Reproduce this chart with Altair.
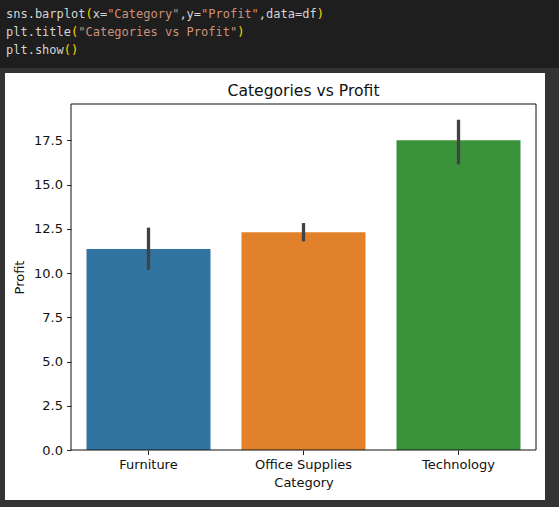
import altair as alt
import pandas as pd

# ---- data ----
categories = ["Furniture", "Office Supplies", "Technology"]
profit_mean = [11.36, 12.31, 17.51]
ci_low = [10.18, 11.80, 16.15]
ci_high = [12.57, 12.83, 18.67]
bar_colors = ["#3274a1", "#e1812c", "#3a923a"]
chart_title = "Categories vs Profit"

# code cell text, split into coloured tokens
code_lines = [
    [("sns.barplot", "w"), ("(", "y"), ("x=", "w"), ('"Category"', "o"), (",y=", "w"),
     ('"Profit"', "o"), (",data=df", "w"), (")", "y")],
    [("plt.title", "w"), ("(", "y"), ('"Categories vs Profit"', "o"), (")", "y")],
    [("plt.show", "w"), ("()", "y")],
]
token_colors = {"w": "#d4d4d4", "y": "#ffd700", "o": "#ce9178"}

df = pd.DataFrame({"Category": categories, "Profit": profit_mean,
                   "lo": ci_low, "hi": ci_high})

W, H = 465, 346
PAD = {"left": 71, "top": 104, "right": 23, "bottom": 57}
CHAR_W = 0.602 * 12

one = alt.Data(values=[{"a": 1}])

# backgrounds
code_bg = alt.Chart(one).mark_rect(color="#1e1e1e").encode(
    x=alt.value(-PAD["left"]), x2=alt.value(W + PAD["right"]),
    y=alt.value(-PAD["top"]), y2=alt.value(-36))
panel = alt.Chart(one).mark_rect(color="white").encode(
    x=alt.value(-66), x2=alt.value(474), y=alt.value(-31), y2=alt.value(396))

x_axis = alt.Axis(labelAngle=0, labelPadding=4, titlePadding=5, zindex=1, domain=False)
x_scale = alt.Scale(paddingInner=0.2, paddingOuter=0.1)
y_scale = alt.Scale(domain=[0, 19.56], nice=False, zero=True)
y_axis = alt.Axis(values=[0, 2.5, 5, 7.5, 10, 12.5, 15, 17.5], format=".1f",
                  grid=False, labelPadding=4, titlePadding=7, zindex=1, domain=False)

bars = alt.Chart(df).mark_bar().encode(
    x=alt.X("Category:N", sort=categories, title="Category", scale=x_scale, axis=x_axis),
    y=alt.Y("Profit:Q", scale=y_scale, title="Profit", axis=y_axis),
    color=alt.Color("Category:N", sort=categories,
                    scale=alt.Scale(domain=categories, range=bar_colors), legend=None),
)
err = alt.Chart(df).mark_rule(color="#424242", strokeWidth=3.3).encode(
    x=alt.X("Category:N", sort=categories, title="Category", scale=x_scale, axis=x_axis),
    y=alt.Y("lo:Q", scale=y_scale, title="Profit", axis=y_axis), y2="hi:Q")
frame = alt.Chart(one).mark_rect(fillOpacity=0, stroke="#111111", strokeWidth=1).encode(
    x=alt.value(0), x2=alt.value("width"), y=alt.value(0), y2=alt.value("height"))

title_mark = alt.Chart(one).mark_text(
    align="center", baseline="middle", font="DejaVu Sans", fontSize=15.6, color="#111111"
).encode(x=alt.value(W / 2), y=alt.value(-13.5), text=alt.value(chart_title))

text_layers = []
line_y = [-90, -72, -54]
for li, segs in enumerate(code_lines):
    col = 0
    for tok, ck in segs:
        text_layers.append(
            alt.Chart(one).mark_text(align="left", baseline="middle", font="DejaVu Sans Mono",
                                     fontSize=12, color=token_colors[ck]).encode(
                x=alt.value(-65 + col * CHAR_W), y=alt.value(line_y[li]), text=alt.value(tok)))
        col += len(tok)

chart = alt.layer(code_bg, panel, bars, err, frame, title_mark, *text_layers).properties(
    width=W, height=H, padding=PAD, autosize=alt.AutoSizeParams(type="none"),
    background="#333333",
).configure_axis(
    labelFont="DejaVu Sans", titleFont="DejaVu Sans", labelFontSize=13, titleFontSize=13,
    titleFontWeight="normal", labelColor="#111111", titleColor="#111111",
    tickColor="#222222", tickSize=4.5, tickWidth=1,
).configure_view(strokeWidth=0)

chart.save("out.html", embed_options={"renderer": "svg", "actions": False})
